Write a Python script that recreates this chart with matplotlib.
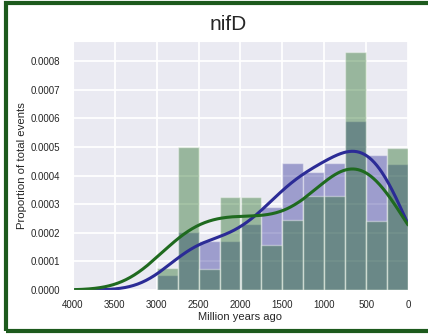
import numpy as np
import matplotlib
matplotlib.use('Agg')
import matplotlib.pyplot as plt
import seaborn as sns
from matplotlib.patches import Rectangle

sns.set_style('darkgrid')
plt.rcParams['font.family'] = ['Liberation Sans', 'DejaVu Sans']

# bins of 250 Myr, from 3000 to 0 million years ago
bin_edges = [3000, 2750, 2500, 2250, 2000, 1750, 1500, 1250, 1000, 750, 500, 250, 0]
green_vals = [0.000077, 0.00050, 0.000073, 0.000326, 0.000326, 0.000157,
              0.000245, 0.000329, 0.000329, 0.00083, 0.000242, 0.000495]
blue_vals = [0.000053, 0.000203, 0.000172, 0.000172, 0.000231, 0.000291,
             0.000442, 0.000411, 0.000442, 0.000592, 0.000472, 0.00044]

blue_col = '#2b2b96'
green_col = '#1f6a1f'

edges = np.array(bin_edges, dtype=float)
lefts = edges[1:]
widths = edges[:-1] - edges[1:]
centers = lefts + widths / 2


def weighted_kde(xs, pts, w, bw):
    w = np.asarray(w) * widths
    d = (xs[:, None] - pts[None, :]) / bw
    return (w[None, :] * np.exp(-0.5 * d ** 2)).sum(axis=1) / (bw * np.sqrt(2 * np.pi))


fig = plt.figure(figsize=(4.28, 3.35), dpi=100)
ax = fig.add_axes([73 / 428, 45 / 335, 335 / 428, 249 / 335])

ax.bar(lefts, blue_vals, width=widths, align='edge', color=blue_col, alpha=0.4,
       edgecolor='white', linewidth=1)
ax.bar(lefts, green_vals, width=widths, align='edge', color=green_col, alpha=0.4,
       edgecolor='white', linewidth=1)

xs = np.linspace(0, 4000, 400)
ax.plot(xs, weighted_kde(xs, centers, blue_vals, 315), color=blue_col, lw=2.2)
ax.plot(xs, weighted_kde(xs, centers, green_vals, 420), color=green_col, lw=2.2)

ax.set_xlim(4000, 0)
ax.set_ylim(0, 0.00087)
ax.set_xticks([4000, 3500, 3000, 2500, 2000, 1500, 1000, 500, 0])
ax.set_yticks(np.arange(0, 0.00081, 0.0001))
ax.yaxis.set_major_formatter(matplotlib.ticker.FormatStrFormatter('%.4f'))
ax.tick_params(axis='x', labelsize=7, pad=4)
ax.tick_params(axis='y', labelsize=7, pad=6)
ax.grid(color='white', linewidth=1.3)
ax.set_xlabel('Million years ago', fontsize=8, labelpad=1)
ax.set_ylabel('Proportion of total events', fontsize=8.2, labelpad=2)
fig.text(228 / 428, 1 - 25 / 335, 'nifD', fontsize=15, ha='center', va='center')

# dark green frame around the panel
fig.patches.append(Rectangle((6 / 428, 4 / 335), 1.2, 328 / 335, transform=fig.transFigure,
                             fill=False, edgecolor='#1d5a1d', linewidth=3, zorder=10))

fig.savefig('out.png', dpi=100)
